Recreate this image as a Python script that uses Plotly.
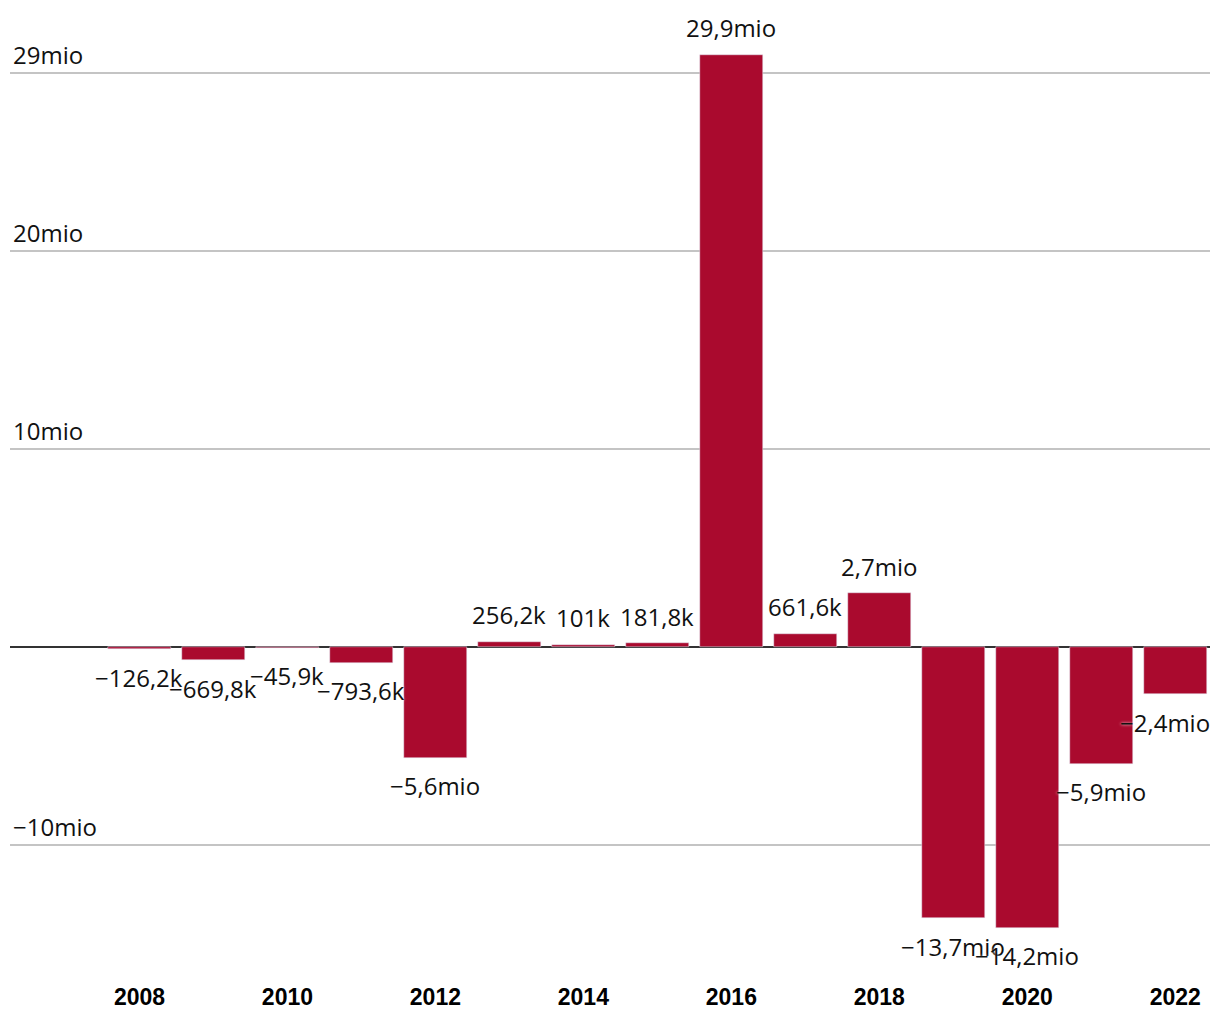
import plotly.graph_objects as go

years = [2008, 2009, 2010, 2011, 2012, 2013, 2014, 2015, 2016, 2017, 2018, 2019, 2020, 2021, 2022]
values = [-126200, -669800, -45900, -793600, -5600000, 256200, 101000, 181800,
          29900000, 661600, 2700000, -13700000, -14200000, -5900000, -2400000]
ytick_vals = [-10000000, 10000000, 20000000, 29000000]
ytick_text = ["\u221210mio", "10mio", "20mio", "29mio"]
xtick_vals = [2008, 2010, 2012, 2014, 2016, 2018, 2020, 2022]

BAR = "#aa0a2e"


def fmt(v):
    a = abs(v)
    if a >= 1e6:
        s = f"{a/1e6:.1f}"
        unit = "mio"
    else:
        s = f"{a/1e3:.1f}"
        unit = "k"
    if s.endswith(".0"):
        s = s[:-2]
    s = s.replace(".", ",")
    return ("\u2212" if v < 0 else "") + s + unit


fig = go.Figure()
fig.add_trace(go.Bar(x=years, y=values, marker_color=BAR, width=0.85,
                     hoverinfo="skip"))

for i, (yr, v) in enumerate(zip(years, values)):
    xshift = 0
    if i == len(years) - 1:
        xshift = -10
    fig.add_annotation(x=yr, y=v, text=fmt(v), showarrow=False,
                       xanchor="center", yanchor="middle",
                       yshift=27 if v >= 0 else -28, xshift=xshift,
                       font=dict(family="Open Sans", size=24, color="#111",
                                 shadow="0px 0px 3px rgba(255,255,255,0.9)"))

fig.update_layout(
    width=1204, height=1004,
    margin=dict(l=2, r=2, t=14, b=30),
    paper_bgcolor="white", plot_bgcolor="white",
    showlegend=False,
    bargap=0,
    xaxis=dict(range=[2006.25, 2022.47], tickvals=xtick_vals,
               ticktext=[str(t) for t in xtick_vals],
               showgrid=False, zeroline=False, showline=False, ticks="",
               ticklabelstandoff=4,
               tickfont=dict(family="Liberation Sans", size=23, color="#000",
                             weight="bold")),
    yaxis=dict(range=[-16.68e6, 31.56e6], tickvals=ytick_vals, ticktext=ytick_text,
               ticklabelposition="inside top", showgrid=True, gridcolor="#c4c4c4",
               gridwidth=1.5, zeroline=True, zerolinecolor="#333", zerolinewidth=1.5,
               ticks="", tickfont=dict(family="Open Sans", size=24, color="#111")),
)

fig.write_html("out.html")
